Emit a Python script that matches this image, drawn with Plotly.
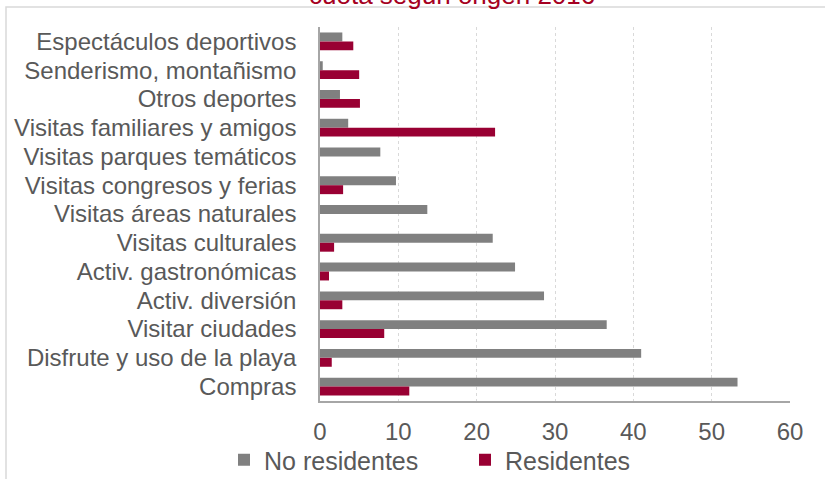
import plotly.graph_objects as go

categories = [
    "Espectáculos deportivos",
    "Senderismo, montañismo",
    "Otros deportes",
    "Visitas familiares y amigos",
    "Visitas parques temáticos",
    "Visitas congresos y ferias",
    "Visitas áreas naturales",
    "Visitas culturales",
    "Activ. gastronómicas",
    "Activ. diversión",
    "Visitar ciudades",
    "Disfrute y uso de la playa",
    "Compras",
]
no_residentes = [2.85, 0.35, 2.55, 3.6, 7.7, 9.7, 13.7, 22.05, 24.9, 28.6, 36.6, 41.0, 53.3]
residentes = [4.25, 5.0, 5.1, 22.35, 0.0, 2.95, 0.0, 1.8, 1.15, 2.85, 8.2, 1.5, 11.4]
x_ticks = [0, 10, 20, 30, 40, 50, 60]
title_text = "cuota según origen 2016"

GRAY = "#808080"
CRIMSON = "#990033"
TXT = "#595959"
FONT = "Liberation Sans, Arial, sans-serif"

fig = go.Figure()
fig.add_trace(go.Bar(y=categories, x=no_residentes, orientation="h", name="No residentes",
                     marker=dict(color=GRAY, line=dict(width=0))))
fig.add_trace(go.Bar(y=categories, x=residentes, orientation="h", name="Residentes",
                     marker=dict(color=CRIMSON, line=dict(width=0))))

fig.update_layout(
    width=825, height=479,
    margin=dict(l=320, r=35, t=27, b=78, autoexpand=False),
    paper_bgcolor="white", plot_bgcolor="white",
    barmode="group", bargap=0.38, bargroupgap=0.0,
    font=dict(family=FONT, size=24, color=TXT),
    showlegend=True,
    legend=dict(orientation="h", x=(224 - 320) / 470, xanchor="left",
                y=(401 - 460) / 374, yanchor="middle",
                font=dict(size=25, color=TXT), itemwidth=30, entrywidth=196,
                bgcolor="rgba(0,0,0,0)", itemclick=False),
    xaxis=dict(range=[0, 60], tickvals=x_ticks, showgrid=True, gridcolor="#d9d9d9",
               griddash="3px,3px", gridwidth=1, zeroline=False,
               showline=True, linecolor="#a6a6a6", linewidth=1.5,
               ticks="", ticklabelstandoff=8, tickfont=dict(size=24, color=TXT),
               fixedrange=True),
    yaxis=dict(autorange="reversed", showgrid=False, zeroline=False,
               tickmode="array", tickvals=categories, ticktext=categories,
               showline=True, linecolor="#a6a6a6", linewidth=1.5,
               ticks="", ticklabelstandoff=17, tickfont=dict(size=24, color=TXT),
               fixedrange=True),
    shapes=[dict(type="rect", xref="paper", yref="paper",
                 x0=(6 - 320) / 470, x1=1.1, y0=-0.25, y1=1 + 20 / 374,
                 line=dict(color="#d9d9d9", width=1.5), fillcolor="rgba(0,0,0,0)", layer="below")],
    annotations=[dict(text=title_text, xref="paper", yref="paper",
                      x=(452 - 320) / 470, y=1 + 32 / 374, xanchor="center", yanchor="middle",
                      showarrow=False, font=dict(size=26, color="#A50021", family=FONT))],
)

fig.write_html("out.html", config={"displayModeBar": False},
               post_script="document.body.style.margin='0px';")
